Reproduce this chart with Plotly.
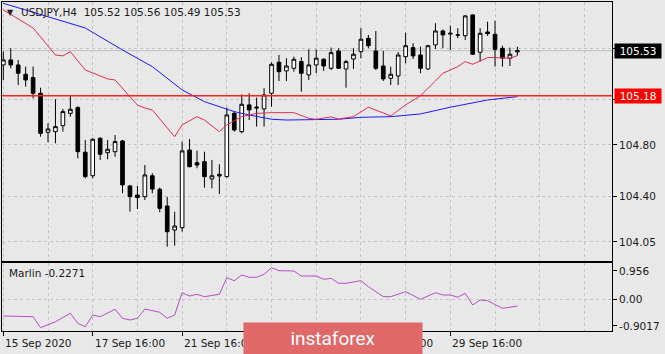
import plotly.graph_objects as go

# ---------------- data ----------------
bars = list(range(70))
open_ = [105.419, 105.458, 105.419, 105.347, 105.321, 105.200, 104.898, 104.903, 104.949, 105.045,
         105.089, 104.744, 104.562, 104.852, 104.740, 104.748, 104.831, 104.483, 104.413, 104.400,
         104.562, 104.457, 104.328, 104.142, 104.160, 104.761, 104.663, 104.671, 104.537, 104.573,
         104.555, 105.045, 104.903, 105.110, 105.085, 105.079, 105.200, 105.440, 105.373, 105.393,
         105.445, 105.342, 105.419, 105.463, 105.393, 105.527, 105.388, 105.465, 105.522, 105.625,
         105.527, 105.411, 105.316, 105.334, 105.483, 105.553, 105.496, 105.388, 105.574, 105.682,
         105.658, 105.649, 105.645, 105.806, 105.517, 105.674, 105.656, 105.548, 105.471, 105.52]
high = [105.522, 105.548, 105.458, 105.406, 105.406, 105.243, 104.968, 105.154, 105.079, 105.179,
        105.102, 104.839, 104.852, 104.860, 104.839, 104.877, 104.839, 104.491, 104.483, 104.645,
        104.581, 104.470, 104.400, 104.284, 104.826, 104.846, 104.756, 104.748, 104.684, 104.651,
        105.089, 105.063, 105.192, 105.200, 105.166, 105.239, 105.440, 105.496, 105.471, 105.483,
        105.479, 105.540, 105.540, 105.471, 105.553, 105.548, 105.458, 105.548, 105.703, 105.651,
        105.682, 105.527, 105.406, 105.519, 105.669, 105.587, 105.561, 105.574, 105.742, 105.694,
        105.723, 105.703, 105.806, 105.811, 105.703, 105.754, 105.760, 105.568, 105.553, 105.56]
low = [105.303, 105.393, 105.264, 105.251, 105.161, 104.864, 104.821, 104.813, 104.903, 105.019,
       104.697, 104.542, 104.542, 104.684, 104.689, 104.709, 104.426, 104.284, 104.305, 104.374,
       104.426, 104.279, 104.013, 104.021, 104.129, 104.627, 104.620, 104.470, 104.465, 104.421,
       104.547, 104.903, 104.890, 104.993, 104.942, 104.942, 105.096, 105.295, 105.295, 105.367,
       105.212, 105.303, 105.355, 105.373, 105.380, 105.388, 105.243, 105.388, 105.471, 105.548,
       105.380, 105.295, 105.264, 105.264, 105.432, 105.465, 105.355, 105.380, 105.543, 105.548,
       105.535, 105.626, 105.612, 105.496, 105.445, 105.645, 105.406, 105.406, 105.411, 105.49]
close = [105.458, 105.419, 105.355, 105.303, 105.200, 104.890, 104.924, 104.942, 105.058, 105.076,
         104.748, 104.555, 104.844, 104.728, 104.767, 104.826, 104.491, 104.400, 104.393, 104.568,
         104.459, 104.310, 104.129, 104.173, 104.754, 104.632, 104.645, 104.555, 104.562, 104.560,
         105.032, 104.916, 105.115, 105.071, 105.092, 105.187, 105.424, 105.367, 105.411, 105.463,
         105.355, 105.419, 105.471, 105.411, 105.514, 105.393, 105.445, 105.502, 105.618, 105.568,
         105.393, 105.311, 105.347, 105.496, 105.568, 105.489, 105.393, 105.568, 105.682, 105.651,
         105.664, 105.651, 105.798, 105.502, 105.664, 105.661, 105.540, 105.471, 105.502, 105.53]

fast_ma_x = [0, 4, 7, 8, 9, 11, 14, 15, 18, 19, 20, 22, 23, 24, 26, 27, 29, 30, 32, 34, 36, 39,
             41, 42, 44, 45, 47, 49, 52, 54, 56, 58, 59, 61, 62, 63, 65, 66, 68, 69]
fast_ma_y = [105.845, 105.705, 105.496, 105.489, 105.522, 105.380, 105.311, 105.303, 105.109, 105.086,
             105.071, 104.932, 104.864, 104.955, 105.019, 104.993, 104.903, 104.955, 105.019, 105.044,
             105.050, 105.050, 105.006, 104.999, 105.017, 105.001, 105.019, 105.092, 105.025, 105.110,
             105.181, 105.295, 105.355, 105.406, 105.445, 105.424, 105.476, 105.476, 105.471, 105.491]

slow_ma_x = [0, 11, 16, 20, 24, 27, 31, 33, 36, 38, 45, 48, 52, 56, 60, 65, 69]
slow_ma_y = [105.896, 105.705, 105.535, 105.406, 105.226, 105.135, 105.058, 105.032, 104.999, 104.993,
             104.999, 105.014, 105.019, 105.040, 105.092, 105.148, 105.174]

marlin_x = [0, 4, 5, 7, 9, 10, 11, 12, 13, 15, 16, 17, 18, 19, 21, 22, 23, 24, 25, 26, 27, 29,
            30, 31, 32, 33, 34, 35, 36, 37, 39, 40, 42, 43, 44, 45, 46, 48, 49, 51, 52, 54, 56,
            58, 59, 60, 61, 62, 63, 64, 65, 67, 68, 69]
marlin_y = [-0.564, -0.588, -0.959, -0.757, -0.473, -0.811, -0.926, -0.530, -0.588, -0.338, -0.642,
            -0.699, -0.642, -0.328, -0.439, -0.642, -0.530, 0.223, 0.111, 0.169, 0.088, 0.169,
            0.730, 0.628, 0.821, 0.743, 0.743, 0.845, 1.068, 0.966, 0.956, 0.787, 0.787, 0.676,
            0.709, 0.541, 0.541, 0.628, 0.426, 0.088, 0.088, 0.257, 0.000, 0.223, 0.145, 0.145,
            0.068, 0.203, -0.193, -0.024, -0.047, -0.304, -0.270, -0.227]

level_price = 105.18
last_price = 105.53
price_ticks = [104.05, 104.40, 104.80, 105.15, 105.55]
price_ticktext = ["104.05", "104.40", "104.80", "", ""]
marlin_ticks = [0.956, 0.0, -0.9017]
marlin_ticktext = ["0.956", "0.00", "-0.9017"]
date_ticks = [0, 12, 24, 36, 48, 60]
# the 23 Sep label is fully hidden by the logo in the reference
date_labels = ["15 Sep 2020", "17 Sep 16:00", "21 Sep 16:00", "",
               "25 Sep 16:00", "29 Sep 16:00"]
title_text = "USDJPY,H4  105.52 105.56 105.49 105.53"
marlin_text = "Marlin -0.2271"

# ---------------- figure ----------------
FONT = "DejaVu Sans"
BG = "#e8e8e8"
GRID = "#c4c4c4"

fig = go.Figure()

fig.add_trace(go.Candlestick(
    x=bars, open=open_, high=high, low=low, close=close,
    increasing=dict(line=dict(color="black", width=1), fillcolor="white"),
    decreasing=dict(line=dict(color="black", width=1), fillcolor="black"),
    showlegend=False, xaxis="x", yaxis="y"))

fig.add_trace(go.Scatter(x=slow_ma_x, y=slow_ma_y, mode="lines",
                         line=dict(color="#1a1aff", width=1), showlegend=False,
                         xaxis="x", yaxis="y"))
fig.add_trace(go.Scatter(x=fast_ma_x, y=fast_ma_y, mode="lines",
                         line=dict(color="#e0304f", width=1), showlegend=False,
                         xaxis="x", yaxis="y"))
fig.add_trace(go.Scatter(x=marlin_x, y=marlin_y, mode="lines",
                         line=dict(color="#b44fc4", width=1), showlegend=False,
                         xaxis="x2", yaxis="y2"))

# horizontal level + bid line
fig.add_shape(type="line", xref="x domain", yref="y", x0=0, x1=1, y0=level_price, y1=level_price,
              line=dict(color="#ff2020", width=1.5), layer="above")
fig.add_shape(type="line", xref="x domain", yref="y", x0=0, x1=1, y0=last_price, y1=last_price,
              line=dict(color="#c0c0c0", width=1), layer="below")

xmin, xmax = -0.175, 81.7

fig.update_layout(
    width=665, height=354,
    margin=dict(l=2, r=53, t=2, b=23),
    paper_bgcolor=BG, plot_bgcolor=BG,
    font=dict(family=FONT, size=10.5, color="#1a1a1a"),
    showlegend=False,
    xaxis=dict(domain=[0, 1], anchor="y", range=[xmin, xmax], rangeslider=dict(visible=False),
               tickmode="linear", tick0=0, dtick=6, showticklabels=False, ticks="",
               showgrid=True, gridcolor=GRID, griddash="3px,3px", gridwidth=1,
               showline=True, linecolor="black", linewidth=1, mirror=True, zeroline=False),
    yaxis=dict(domain=[0.2128, 1], anchor="x", side="right", range=[103.9025, 105.906],
               tickmode="array", tickvals=price_ticks, ticktext=price_ticktext,
               ticks="outside", ticklen=4, tickcolor="black",
               showgrid=True, gridcolor=GRID, griddash="3px,3px", gridwidth=1,
               showline=True, linecolor="black", linewidth=1, mirror=True, zeroline=False),
    xaxis2=dict(domain=[0, 1], anchor="y2", matches="x", range=[xmin, xmax],
                tickmode="array", tickvals=date_ticks, ticktext=[""] * len(date_ticks),
                ticks="outside", ticklen=4, tickcolor="black",
                showgrid=True, gridcolor=GRID, griddash="3px,3px",
                minor=dict(tickmode="linear", tick0=0, dtick=6, showgrid=True,
                           gridcolor=GRID, griddash="3px,3px", ticks=""),
                showline=True, linecolor="black", linewidth=1, mirror=True, zeroline=False),
    yaxis2=dict(domain=[0, 0.2067], anchor="x2", side="right", range=[-1.071, 1.226],
                tickmode="array", tickvals=marlin_ticks, ticktext=marlin_ticktext,
                ticks="outside", ticklen=4, tickcolor="black", showgrid=False,
                minor=dict(tickmode="array", tickvals=[0.0], showgrid=True,
                           gridcolor=GRID, griddash="3px,3px", ticks=""),
                showline=True, linecolor="black", linewidth=1, mirror=True, zeroline=False),
)

ann = []
# title
ann.append(dict(text="▼", xref="paper", yref="paper", x=0.005, y=0.9696, xanchor="left",
                yanchor="middle", showarrow=False, font=dict(size=8, color="#202020")))
ann.append(dict(text=title_text, xref="paper", yref="paper", x=0.0285, y=0.9696,
                xanchor="left", yanchor="middle", showarrow=False,
                font=dict(size=10.5, color="#1a1a1a")))
ann.append(dict(text=marlin_text, xref="paper", yref="paper", x=0.0075, y=0.1763,
                xanchor="left", yanchor="middle", showarrow=False,
                font=dict(size=10.5, color="#1a1a1a")))
# price boxes
ann.append(dict(text=f"{last_price:.2f}", xref="paper", yref="y", x=1, y=last_price,
                xanchor="left", yanchor="middle", xshift=2, showarrow=False,
                bgcolor="black", width=46, height=14, borderpad=0,
                font=dict(size=10.5, color="white")))
ann.append(dict(text=f"{level_price:.2f}", xref="paper", yref="y", x=1, y=level_price,
                xanchor="left", yanchor="middle", xshift=2, showarrow=False,
                bgcolor="#ff0000", width=46, height=14, borderpad=0,
                font=dict(size=10.5, color="white")))
# date labels
for v, t in zip(date_ticks, date_labels):
    if t:
        ann.append(dict(text=t, xref="x2", yref="paper", x=v, y=-0.0365, xanchor="left",
                        yanchor="middle", showarrow=False, font=dict(size=10.5, color="#1a1a1a")))
# logo (drawn last so it covers labels)
ann.append(dict(text="instaforex", xref="paper", yref="paper", x=0.5426, y=-0.0228,
                xanchor="center", yanchor="middle", showarrow=False,
                bgcolor="#e06868", width=178, height=31, borderpad=0,
                font=dict(family="Roboto", size=19, color="white")))
fig.update_layout(annotations=ann)

fig.write_html("out.html")
